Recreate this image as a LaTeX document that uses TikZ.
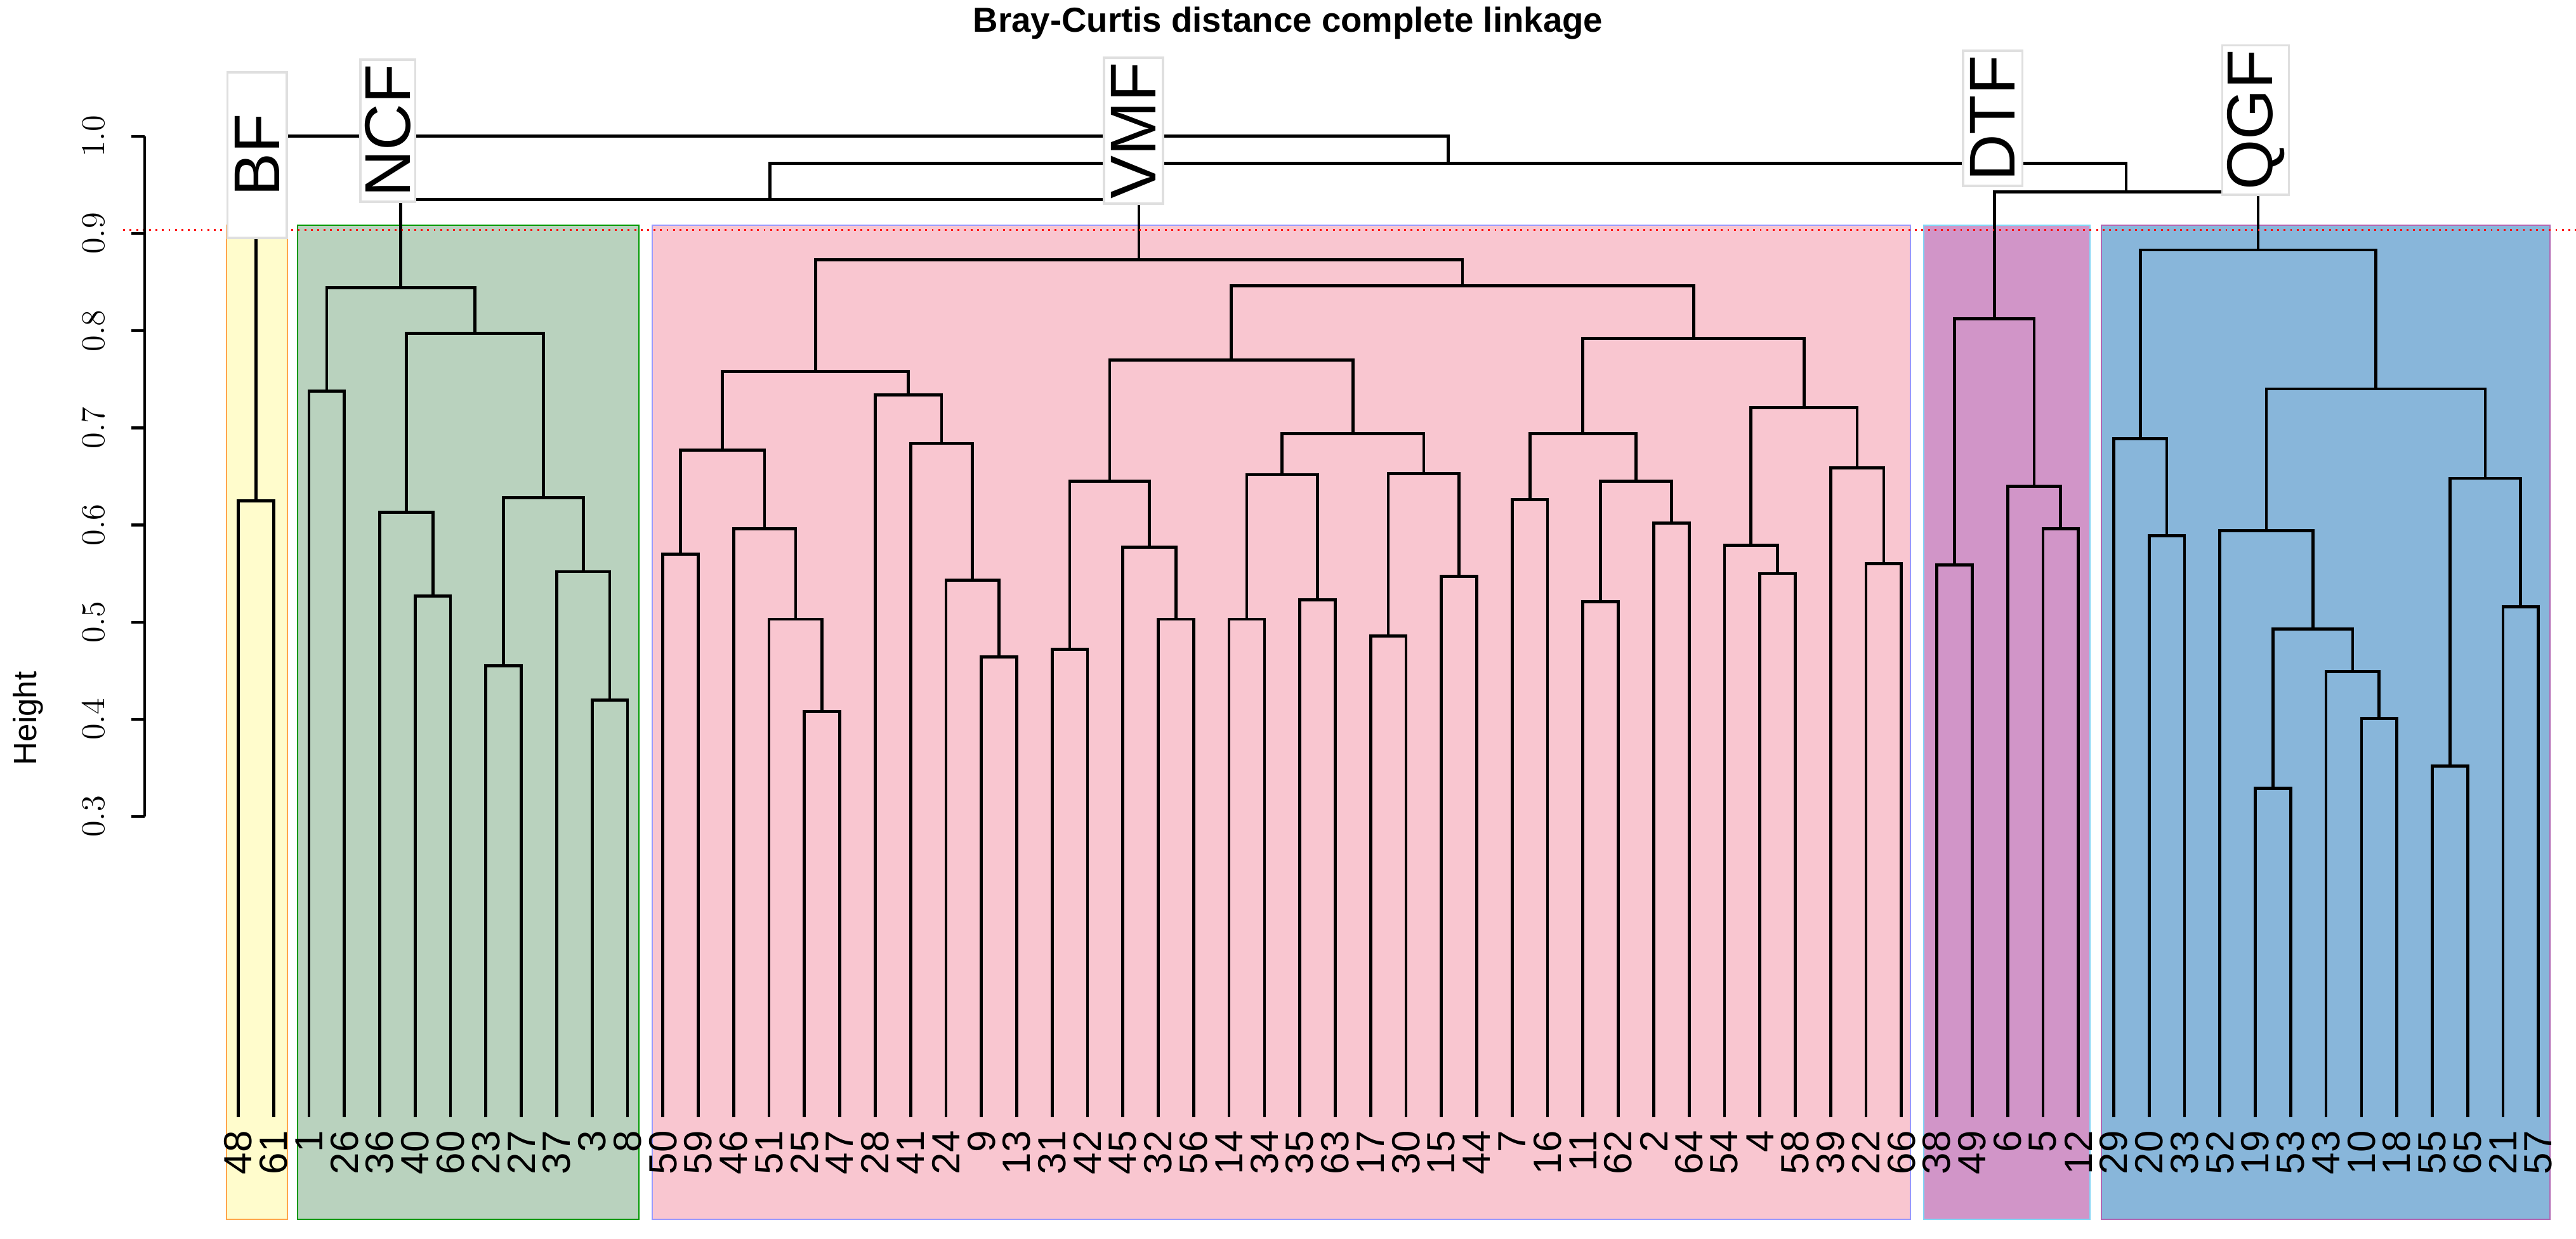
\documentclass[tikz,border=0pt]{standalone}
\usepackage{fontspec}
\setmainfont{Liberation Sans}
\usetikzlibrary{calc}
\definecolor{bfcol}{RGB}{255,252,204}
\definecolor{ncfcol}{RGB}{185,210,190}
\definecolor{vmfcol}{RGB}{249,198,208}
\definecolor{dtfcol}{RGB}{209,149,200}
\definecolor{qgfcol}{RGB}{136,182,218}
\tikzset{
  dend/.style={line width=1.3pt, black},
  grp/.style={line width=0.6pt},
  tag/.style={fill=white, draw=gray!25, line width=1pt, rotate=90, font=\fontsize{28}{30}\selectfont, inner sep=2pt},
  leaflab/.style={rotate=90, anchor=east, inner sep=0pt, font=\fontsize{17}{19}\selectfont},
  ticklab/.style={rotate=90, font=\fontsize{14}{16}\selectfont}
}
\newcommand\joinnodes[4]{%
  \path let \p1=(#1), \p2=(#2) in coordinate (#3) at ({0.5*\x1+0.5*\x2},{#4*14.785cm});
  \draw[dend] (#1) |- (#3) -| (#2);}
\begin{document}
\begin{tikzpicture}[x=0.025cm, y=14.785cm]
\useasboundingbox (0,-0.1346) rectangle (1568,1.1403);

%groupes
\filldraw[grp, fill=bfcol, draw=orange!70] (138,-0.1143) rectangle (175,0.9087);
\filldraw[grp, fill=ncfcol, draw=green!60!black] (181,-0.1143) rectangle (389,0.9087);
\filldraw[grp, fill=vmfcol, draw=blue!40] (397,-0.1143) rectangle (1163,0.9087);
\filldraw[grp, fill=dtfcol, draw=cyan!50] (1171,-0.1143) rectangle (1272,0.9087);
\filldraw[grp, fill=qgfcol, draw=violet!60] (1279,-0.1143) rectangle (1552,0.9087);

%feuilles
\foreach \lab [count=\i] in {48,61,1,26,36,40,60,23,27,37,3,8,50,59,46,51,25,47,28,41,24,9,13,31,42,45,32,56,14,34,35,63,17,30,15,44,7,16,11,62,2,64,54,4,58,39,22,66,38,49,6,5,12,29,20,33,52,19,53,43,10,18,55,65,21,57}{
  \coordinate (n\lab) at ({145+(\i-1)*21.54},-0.0095);
  \node[leaflab] (t\lab) at ({145+(\i-1)*21.54},-0.023) {\lab};
}

%BF
\joinnodes{n48}{n61}{bf}{0.625}
%NCF
\joinnodes{n1}{n26}{a1}{0.738}
\joinnodes{n40}{n60}{a2}{0.527}
\joinnodes{n36}{a2}{a3}{0.613}
\joinnodes{n3}{n8}{a4}{0.42}
\joinnodes{n37}{a4}{a5}{0.552}
\joinnodes{n23}{n27}{a6}{0.455}
\joinnodes{a6}{a5}{a7}{0.628}
\joinnodes{a3}{a7}{a8}{0.797}
\joinnodes{a1}{a8}{ncf}{0.844}
%VMF
\joinnodes{n50}{n59}{b1}{0.570}
\joinnodes{n25}{n47}{b2}{0.408}
\joinnodes{n51}{b2}{b3}{0.503}
\joinnodes{n46}{b3}{b4}{0.596}
\joinnodes{b1}{b4}{b5}{0.677}
\joinnodes{n9}{n13}{b6}{0.464}
\joinnodes{n24}{b6}{b7}{0.543}
\joinnodes{n41}{b7}{b8}{0.684}
\joinnodes{n28}{b8}{b9}{0.734}
\joinnodes{b5}{b9}{b10}{0.758}
\joinnodes{n31}{n42}{b11}{0.472}
\joinnodes{n32}{n56}{b12}{0.503}
\joinnodes{n45}{b12}{b13}{0.577}
\joinnodes{b11}{b13}{b14}{0.645}
\joinnodes{n14}{n34}{b15}{0.503}
\joinnodes{n35}{n63}{b16}{0.523}
\joinnodes{b15}{b16}{b17}{0.652}
\joinnodes{n17}{n30}{b18}{0.486}
\joinnodes{n15}{n44}{b19}{0.547}
\joinnodes{b18}{b19}{b20}{0.653}
\joinnodes{b17}{b20}{b21}{0.694}
\joinnodes{b14}{b21}{b22}{0.770}
\joinnodes{n7}{n16}{b23}{0.626}
\joinnodes{n11}{n62}{b24}{0.521}
\joinnodes{n2}{n64}{b25}{0.602}
\joinnodes{b24}{b25}{b26}{0.645}
\joinnodes{b23}{b26}{b27}{0.694}
\joinnodes{n4}{n58}{b28}{0.550}
\joinnodes{n54}{b28}{b29}{0.579}
\joinnodes{n22}{n66}{b30}{0.560}
\joinnodes{n39}{b30}{b31}{0.659}
\joinnodes{b29}{b31}{b32}{0.721}
\joinnodes{b27}{b32}{b33}{0.792}
\joinnodes{b22}{b33}{b34}{0.846}
\joinnodes{b10}{b34}{vmf}{0.873}
\joinnodes{ncf}{vmf}{c1}{0.935}
%DTF
\joinnodes{n38}{n49}{d1}{0.559}
\joinnodes{n5}{n12}{d2}{0.596}
\joinnodes{n6}{d2}{d3}{0.640}
\joinnodes{d1}{d3}{dtf}{0.812}
%QGF
\joinnodes{n20}{n33}{e1}{0.589}
\joinnodes{n29}{e1}{e2}{0.689}
\joinnodes{n19}{n53}{e3}{0.329}
\joinnodes{n10}{n18}{e4}{0.401}
\joinnodes{n43}{e4}{e5}{0.449}
\joinnodes{e3}{e5}{e6}{0.493}
\joinnodes{n52}{e6}{e7}{0.594}
\joinnodes{n55}{n65}{e8}{0.352}
\joinnodes{n21}{n57}{e9}{0.516}
\joinnodes{e8}{e9}{e10}{0.648}
\joinnodes{e7}{e10}{e11}{0.740}
\joinnodes{e2}{e11}{qgf}{0.883}
\joinnodes{dtf}{qgf}{c2}{0.943}
\joinnodes{c1}{c2}{c3}{0.972}
\joinnodes{bf}{c3}{root}{1.0}

%coupe
\draw[red, dotted, line width=0.8pt] (75,0.9036) -- (1568,0.9036);

%axe
\draw[line width=1.2pt] (88,0.3) -- (88,1.0);
\foreach \h in {0.3,0.4,...,1.01}{
  \draw[line width=1.2pt] (88,\h) -- (80,\h);
  \node[ticklab] (y\h) at (57,\h) {\pgfmathprintnumber[fixed,precision=1,fixed zerofill]{\h}};
}
\node[ticklab] (ylab) at (17,0.401) {Height};
\node[font=\fontsize{15}{18}\selectfont\bfseries] (title) at (784,1.1167) {Bray-Curtis distance complete linkage};

%etiquettes
\node[tag, minimum width=2.52cm, minimum height=0.9cm] (tbf) at (156.5,0.9805) {BF};
\node[tag, minimum width=1.87cm, minimum height=0.7cm] (tncf) at (236,1.0058) {NCF};
\node[tag, minimum width=1.87cm, minimum height=0.9cm] (tvmf) at (690,1.0058) {VMF};
\node[tag, minimum width=1.7cm, minimum height=0.9cm] (tdtf) at (1213,1.0185) {DTF};
\node[tag, minimum width=1.75cm, minimum height=0.9cm] (tqgf) at (1373,1.0168) {QGF};
\end{tikzpicture}
\end{document}
